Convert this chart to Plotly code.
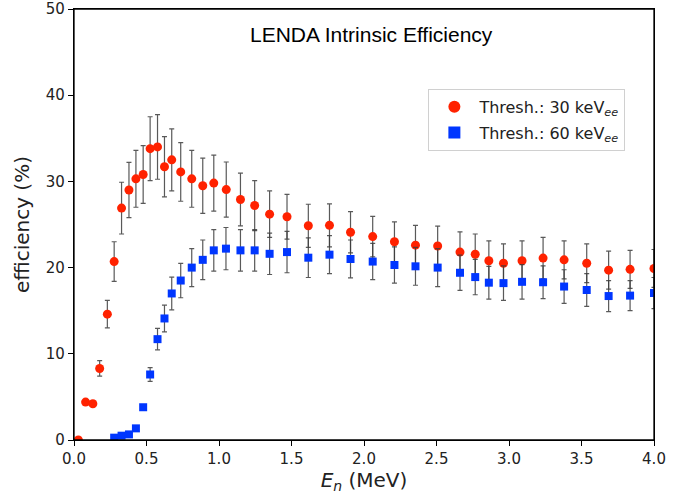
import plotly.graph_objects as go

# Thresh 30 keVee
energy_30 = [0.03, 0.08, 0.13, 0.177, 0.23, 0.277, 0.328, 0.379, 0.427, 0.477,
             0.525, 0.576, 0.624, 0.674, 0.736, 0.812, 0.888, 0.964, 1.05, 1.148,
             1.246, 1.349, 1.469, 1.616, 1.762, 1.907, 2.06, 2.21, 2.355, 2.508,
             2.662, 2.767, 2.861, 2.962, 3.09, 3.235, 3.38, 3.536, 3.687, 3.835, 4.0]
eff_30 = [0.0, 4.4, 4.2, 8.3, 14.6, 20.7, 26.9, 29.0, 30.3, 30.8,
          33.8, 34.0, 31.7, 32.5, 31.1, 30.3, 29.5, 29.8, 29.05, 27.9,
          27.2, 26.2, 25.9, 24.85, 24.9, 24.1, 23.6, 23.0, 22.6, 22.5,
          21.8, 21.55, 20.8, 20.5, 20.8, 21.1, 20.9, 20.5, 19.7, 19.8, 19.9]
err_30 = [0.0, 0.3, 0.3, 0.9, 1.6, 2.3, 3.0, 3.2, 3.3, 3.35,
          3.7, 3.75, 3.5, 3.6, 3.4, 3.3, 3.2, 3.25, 3.2, 3.05,
          2.9, 2.7, 2.6, 2.5, 2.5, 2.4, 2.35, 2.3, 2.3, 2.3,
          2.35, 2.35, 2.3, 2.25, 2.3, 2.4, 2.2, 2.25, 2.2, 2.2, 2.2]

# Thresh 60 keVee
energy_60 = [0.277, 0.328, 0.379, 0.427, 0.477, 0.525, 0.576, 0.624, 0.674, 0.736,
             0.812, 0.888, 0.964, 1.048, 1.148, 1.246, 1.349, 1.469, 1.616, 1.762,
             1.907, 2.06, 2.21, 2.355, 2.508, 2.662, 2.767, 2.861, 2.962, 3.09,
             3.235, 3.38, 3.536, 3.687, 3.835, 4.0]
eff_60 = [0.27, 0.5, 0.65, 1.35, 3.8, 7.6, 11.7, 14.1, 17.0, 18.5,
          20.0, 20.9, 22.0, 22.2, 22.0, 22.0, 21.6, 21.8, 21.15, 21.5,
          21.0, 20.7, 20.3, 20.15, 20.0, 19.4, 18.9, 18.25, 18.2, 18.35,
          18.3, 17.8, 17.4, 16.7, 16.75, 17.05]
err_60 = [0.05, 0.05, 0.1, 0.15, 0.3, 0.8, 1.25, 1.55, 1.9, 2.0,
          2.2, 2.3, 2.4, 2.45, 2.4, 2.4, 2.4, 2.4, 2.3, 2.2,
          2.2, 2.1, 2.1, 2.2, 2.2, 2.05, 2.05, 1.9, 2.0, 2.0,
          1.9, 1.95, 1.9, 1.8, 1.75, 1.8]

x_ticks = [0.0, 0.5, 1.0, 1.5, 2.0, 2.5, 3.0, 3.5, 4.0]
x_tick_labels = ["0.0", "0.5", "1.0", "1.5", "2.0", "2.5", "3.0", "3.5", "4.0"]
y_ticks = [0, 10, 20, 30, 40, 50]

err_style = dict(type="data", visible=True, color="rgba(60,60,60,0.85)",
                 thickness=1.2, width=2.5)

fig = go.Figure()
fig.add_trace(go.Scatter(
    x=energy_30, y=eff_30, mode="markers", legendgroup="a",
    name="Thresh.: 30 keV<sub><i>ee</i></sub>",
    marker=dict(symbol="circle", size=9, color="#ff2200"),
    error_y=dict(array=err_30, **err_style),
))
fig.add_trace(go.Scatter(
    x=energy_60, y=eff_60, mode="markers", legendgroup="b",
    name="Thresh.: 60 keV<sub><i>ee</i></sub>",
    marker=dict(symbol="square", size=8, color="#0036ff"),
    error_y=dict(array=err_60, **err_style),
))

axis_common = dict(
    showline=True, linecolor="black", linewidth=1.3, mirror=True,
    ticks="outside", ticklen=5, tickwidth=1.2, tickcolor="black",
    showgrid=False, zeroline=False, automargin=False,
    tickfont=dict(family="DejaVu Sans", size=15, color="#222"),
)

fig.update_layout(
    width=691, height=497,
    margin=dict(l=74, r=37, t=9, b=57),
    paper_bgcolor="white", plot_bgcolor="white",
    showlegend=True,
    legend=dict(
        x=0.611, y=0.815, xanchor="left", yanchor="top",
        bordercolor="#d0d0d0", borderwidth=1, bgcolor="white",
        font=dict(family="DejaVu Sans", size=16, color="#222"),
        itemsizing="constant", itemwidth=40,
        traceorder="grouped", tracegroupgap=2,
    ),
    xaxis=dict(range=[0, 4.0], tickvals=x_ticks, ticktext=x_tick_labels,
               title=dict(text="<i>E</i><sub><i>n</i></sub> (MeV)", standoff=2,
                          font=dict(family="DejaVu Sans", size=20, color="#222")),
               **axis_common),
    yaxis=dict(range=[0, 50], tickvals=y_ticks,
               title=dict(text="efficiency (%)", standoff=10,
                          font=dict(family="DejaVu Sans", size=20, color="#222")),
               ticklabeloverflow="allow",
               **axis_common),
    shapes=[dict(type="rect", xref="paper", yref="paper", x0=0, y0=0, x1=1, y1=1,
                 line=dict(color="black", width=1.3), layer="above")],
    annotations=[dict(
        text="LENDA Intrinsic Efficiency", x=0.513, y=0.94,
        xref="paper", yref="paper", xanchor="center", yanchor="middle",
        showarrow=False,
        font=dict(family="Liberation Sans", size=21, color="black"),
    )],
)

fig.write_html("out.html")
